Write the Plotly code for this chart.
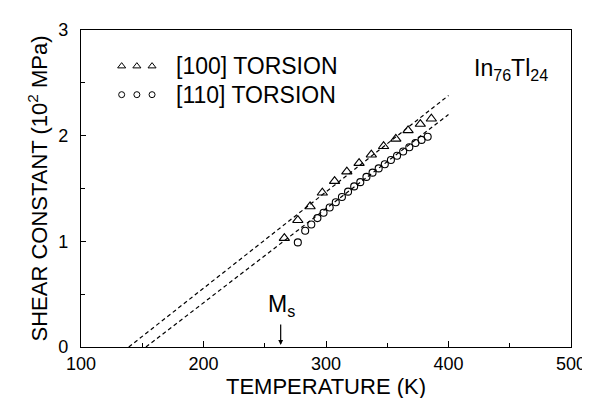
import plotly.graph_objects as go

# [100] torsion (triangles)
t100 = [266, 277, 287, 297, 307, 317, 327, 337, 347, 357, 367, 377, 386]
g100 = [1.03, 1.20, 1.33, 1.46, 1.57, 1.66, 1.74, 1.82, 1.90, 1.97, 2.05, 2.11, 2.16]

# [110] torsion (circles)
t110 = [277, 283, 288, 293, 298, 303, 308, 313, 318, 323, 328, 333, 338, 343,
        348, 353, 358, 363, 368, 373, 378, 383]
g110 = [0.99, 1.10, 1.16, 1.22, 1.27, 1.32, 1.37, 1.42, 1.47, 1.52, 1.56, 1.61,
        1.65, 1.69, 1.73, 1.77, 1.81, 1.85, 1.89, 1.93, 1.96, 1.99]

# extrapolation lines
fit100_t = [139, 400]
fit100_g = [0.0, 2.38]
fit110_t = [153, 400]
fit110_g = [0.0, 2.20]

ms_temp = 263

legend_labels = ["[100] TORSION", "[110] TORSION"]

FONT = "Liberation Sans, Arial, sans-serif"

fig = go.Figure()
for ft, fg in [(fit100_t, fit100_g), (fit110_t, fit110_g)]:
    fig.add_trace(go.Scatter(x=ft, y=fg, mode="lines",
                             line=dict(color="black", width=1.2, dash="4px,3px"),
                             showlegend=False, hoverinfo="skip"))
fig.add_trace(go.Scatter(x=t100, y=g100, mode="markers", name=legend_labels[0],
                         marker=dict(symbol="triangle-up-open", size=9,
                                     color="black", line=dict(width=1.1)),
                         showlegend=False))
fig.add_trace(go.Scatter(x=t110, y=g110, mode="markers", name=legend_labels[1],
                         marker=dict(symbol="circle-open", size=7,
                                     color="black", line=dict(width=1.1)),
                         showlegend=False))

# hand-made legend samples on an invisible overlay axis (0..1 of plot area)
row_y = [0.886, 0.796]
glyph_x = [0.083, 0.114, 0.145]
fig.add_trace(go.Scatter(x=glyph_x, y=[row_y[0]] * 3, xaxis="x2", yaxis="y2",
                         mode="markers", showlegend=False, hoverinfo="skip",
                         marker=dict(symbol="triangle-up-open", size=7,
                                     color="black", line=dict(width=1))))
fig.add_trace(go.Scatter(x=glyph_x, y=[row_y[1]] * 3, xaxis="x2", yaxis="y2",
                         mode="markers", showlegend=False, hoverinfo="skip",
                         marker=dict(symbol="circle-open", size=6,
                                     color="black", line=dict(width=1))))

ann = []
for r in range(2):
    ann.append(dict(xref="paper", yref="paper", x=0.19, y=row_y[r],
                    xanchor="left", yanchor="middle", showarrow=False,
                    text=legend_labels[r],
                    font=dict(family=FONT, size=23, color="black")))
ann.append(dict(xref="paper", yref="paper", x=0.957, y=0.875, xanchor="right",
                yanchor="middle", showarrow=False,
                text="In<sub>76</sub>Tl<sub>24</sub>",
                font=dict(family=FONT, size=23, color="black")))
# Ms marker
ann.append(dict(x=ms_temp, y=0.02, xref="x", yref="y", ax=0, ay=-22, text="",
                showarrow=True, arrowhead=2, arrowsize=0.8, arrowwidth=1.2,
                arrowcolor="black"))
ann.append(dict(x=ms_temp + 1, y=0.39, xref="x", yref="y", xanchor="center",
                yanchor="middle", showarrow=False, text="M<sub>s</sub>",
                font=dict(family=FONT, size=23, color="black")))
fig.update_layout(annotations=ann)

axis_common = dict(showline=True, linecolor="black", linewidth=1.3, mirror=True,
                   ticks="inside", tickcolor="black", tickwidth=1,
                   showgrid=False, zeroline=False,
                   tickfont=dict(family=FONT, size=18, color="black"))

fig.update_xaxes(range=[100, 500], tick0=100, dtick=100, ticklen=6,
                 ticklabeloverflow="allow",
                 minor=dict(ticks="inside", ticklen=4, dtick=50, tickcolor="black"),
                 title=dict(text="TEMPERATURE (K)",
                            font=dict(family=FONT, size=22, color="black"),
                            standoff=4),
                 **axis_common, selector=dict(anchor="y"))
fig.update_layout(
    xaxis=dict(range=[100, 500], tick0=100, dtick=100, ticklen=6,
               ticklabeloverflow="allow",
               minor=dict(ticks="inside", ticklen=4, dtick=50, tickcolor="black"),
               title=dict(text="TEMPERATURE (K)",
                          font=dict(family=FONT, size=22, color="black"),
                          standoff=4),
               **axis_common),
    yaxis=dict(range=[0, 3], tick0=0, dtick=1, ticklen=5,
               ticklabelstandoff=8,
               minor=dict(ticks="inside", ticklen=4, dtick=0.5, tickcolor="black"),
               title=dict(text="SHEAR CONSTANT (10<sup>2</sup> MPa)",
                          font=dict(family=FONT, size=22, color="black"),
                          standoff=4),
               **axis_common),
    xaxis2=dict(overlaying="x", range=[0, 1], visible=False, anchor="y2"),
    yaxis2=dict(overlaying="y", range=[0, 1], visible=False, anchor="x2"),
)

fig.update_layout(width=590, height=398, margin=dict(l=73, r=26, t=14, b=59),
                  plot_bgcolor="white", paper_bgcolor="white")

fig.write_html("out.html")
